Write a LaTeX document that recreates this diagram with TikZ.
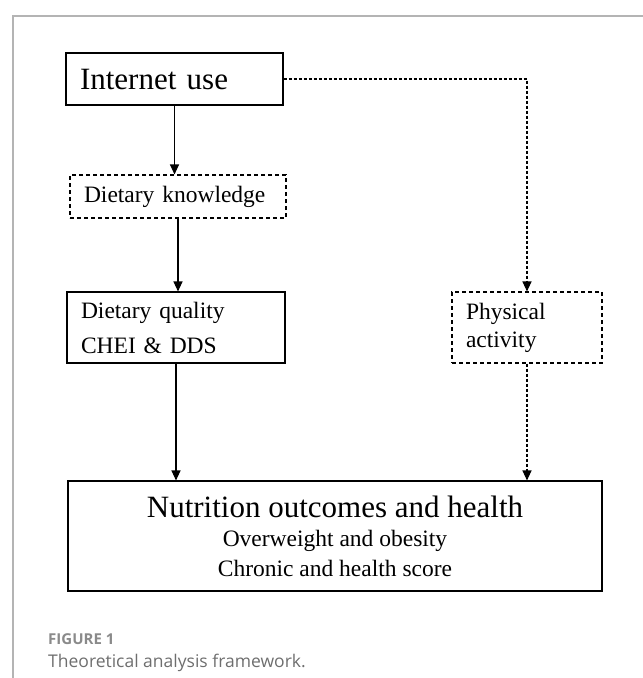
\documentclass[tikz,border=0pt]{standalone}
\usepackage{fontspec}
\setmainfont{Liberation Serif}
\newfontfamily\capfont{Open Sans}
\usetikzlibrary{arrows.meta}
\definecolor{framegray}{HTML}{B4B4B4}
\definecolor{figgray}{HTML}{8A8A8A}
\definecolor{capgray}{HTML}{6E6E6E}
\begin{document}
\begin{tikzpicture}[x = 1pt, y = -1pt,
    box/.style = {draw, line width = 1.1pt, rectangle, inner xsep = 14pt, inner ysep = 0pt, align = left},
    dbox/.style = {box, dash pattern = on 4pt off 3pt},
    big/.style = {font = \fontsize{31}{34}\selectfont},
    small/.style = {font = \fontsize{23.5}{28}\selectfont},
    arr/.style = {-{Triangle[width = 9pt, length = 10pt]}, line width = 1.1pt},
    darr/.style = {arr, dash pattern = on 3pt off 2pt}]
    \useasboundingbox (0, 0) rectangle (643, 678);
    \draw [framegray, line width = 1.5pt] (13, 678) -- (13, 16) -- (643, 16);
    \node [box, big, text width = 189pt, minimum height = 52pt] (internet) at (174.5, 79) {Internet use};
    \node [dbox, small, text width = 188pt, minimum height = 43pt] (knowledge) at (178, 196.5) {Dietary knowledge};
    \node [box, small, text width = 190pt, minimum height = 71pt] (quality) at (176, 327.5) {Dietary quality\\[7pt]CHEI \& DDS};
    \node [dbox, small, text width = 122pt, minimum height = 71pt] (physical) at (527, 327.5) {Physical\\activity};
    \node [draw, line width = 1.1pt, minimum width = 534pt, minimum height = 110pt, align = center, font = \fontsize{23.5}{29.5}\selectfont] (outcome) at (335, 536)
        {{\fontsize{31}{34}\selectfont Nutrition outcomes and health}\\Overweight and obesity\\Chronic and health score};
    \draw [arr] (internet.south) -- (internet.south |- knowledge.north);
    \draw [arr] (knowledge.south) -- (knowledge.south |- quality.north);
    \draw [arr] (quality.south) -- (quality.south |- outcome.north);
    \draw [darr] (internet.east) -| (physical.north);
    \draw [darr] (physical.south) -- (physical.south |- outcome.north);
    \node [anchor = base west, inner sep = 0pt, text = figgray, font = \capfont\bfseries\fontsize{15}{18}\selectfont] (figlabel) at (48, 644) {FIGURE 1};
    \node [anchor = base west, inner sep = 0pt, text = capgray, font = \capfont\fontsize{17.5}{21}\selectfont] (caption) at (48, 667) {Theoretical analysis framework.};
\end{tikzpicture}
\end{document}
